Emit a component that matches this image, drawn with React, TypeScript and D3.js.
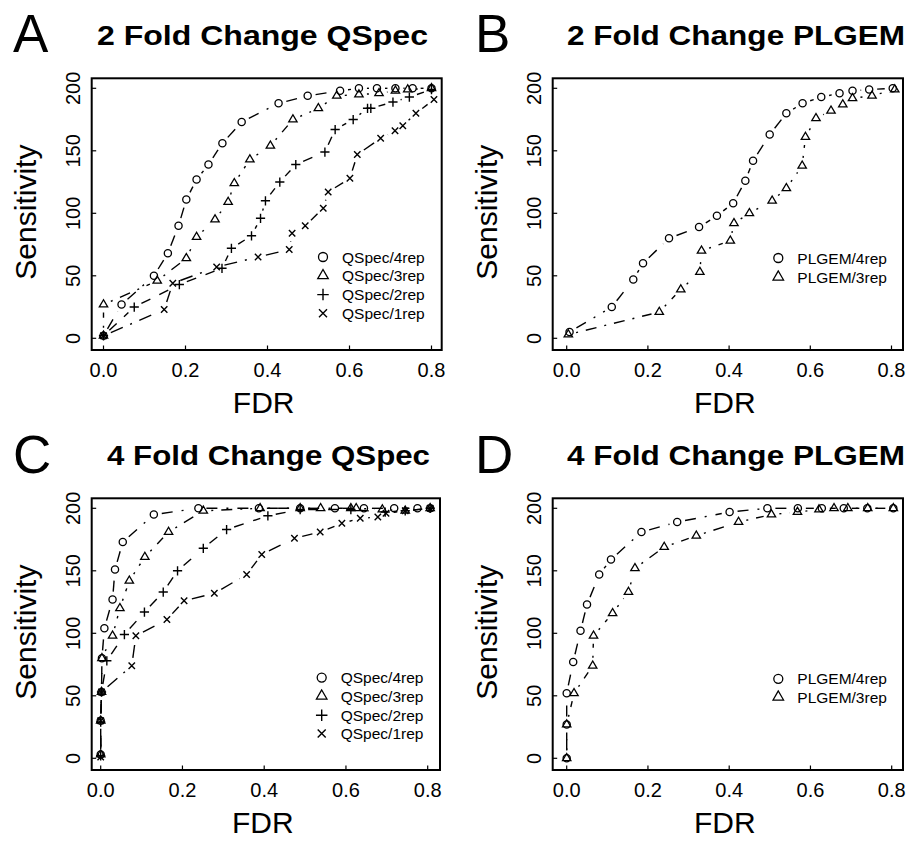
import React from "react";
import * as d3 from "d3";

type P = [number, number];

// ---------- Data (FDR, Sensitivity) ----------
const A_4rep: P[] = [[0,2],[0.044,27],[0.123,50],[0.157,68],[0.183,90],[0.202,111],[0.227,127],[0.256,139],[0.29,156],[0.337,173],[0.427,188],[0.498,194],[0.577,198],[0.623,200],[0.667,200],[0.712,200],[0.754,200],[0.8,200]];
const A_3rep: P[] = [[0,2],[0,27],[0.131,46],[0.202,64],[0.227,81],[0.272,95],[0.304,109],[0.319,124],[0.357,143],[0.407,154],[0.462,175],[0.524,184],[0.569,194],[0.623,195],[0.672,196],[0.712,198],[0.742,199],[0.8,200]];
const A_2rep: P[] = [[0,2],[0.075,25],[0.185,43],[0.289,56],[0.312,72],[0.361,82],[0.383,96],[0.395,110],[0.43,125],[0.469,139],[0.54,149],[0.565,167],[0.609,175],[0.644,184],[0.652,184],[0.706,189],[0.746,193],[0.8,199]];
const A_1rep: P[] = [[0,2],[0.148,23],[0.169,44],[0.276,57],[0.377,65],[0.453,71],[0.46,84],[0.492,90],[0.536,104],[0.548,117],[0.601,128],[0.619,147],[0.676,160],[0.711,166],[0.73,170],[0.762,180],[0.806,191]];

const B_4rep: P[] = [[0.007,5],[0.111,25],[0.164,47],[0.188,60],[0.252,80],[0.326,89],[0.37,98],[0.41,108],[0.44,126],[0.459,142],[0.5,163],[0.541,180],[0.581,188],[0.627,193],[0.672,196],[0.704,198],[0.745,199],[0.803,200]];
const B_3rep: P[] = [[0.004,3],[0.228,21],[0.281,39],[0.328,53],[0.332,70],[0.403,78],[0.412,92],[0.45,100],[0.506,110],[0.541,120],[0.58,138],[0.588,161],[0.614,176],[0.651,182],[0.68,187],[0.704,192],[0.752,194],[0.808,199]];

const C_4rep: P[] = [[0,3],[0,30],[0.002,53],[0.003,80],[0.009,104],[0.029,127],[0.035,151],[0.054,173],[0.13,195],[0.239,200],[0.387,200],[0.488,200],[0.573,200],[0.644,200],[0.718,200],[0.775,200],[0.806,200]];
const C_3rep: P[] = [[0,3],[0,30],[0.002,53],[0.003,80],[0.029,98],[0.047,120],[0.07,142],[0.108,161],[0.166,181],[0.251,198],[0.39,200],[0.488,200],[0.538,200],[0.612,200],[0.625,200],[0.689,199],[0.745,198],[0.806,200]];
const C_2rep: P[] = [[0,2],[0,29],[0.002,53],[0.015,78],[0.058,99],[0.107,117],[0.153,133],[0.188,150],[0.251,168],[0.308,183],[0.409,194],[0.488,199],[0.612,199],[0.696,197],[0.745,198],[0.806,200]];
const C_1rep: P[] = [[0,1],[0,30],[0.002,53],[0.076,74],[0.086,98],[0.162,111],[0.204,126],[0.278,132],[0.357,147],[0.394,163],[0.474,176],[0.537,181],[0.59,188],[0.635,192],[0.678,193],[0.698,196],[0.745,198],[0.806,200]];

const D_4rep: P[] = [[0,0],[0,27],[0,52],[0.016,77],[0.034,102],[0.05,123],[0.08,147],[0.109,159],[0.184,181],[0.272,189],[0.401,197],[0.494,200],[0.569,200],[0.628,200],[0.682,200],[0.74,200],[0.804,200]];
const D_3rep: P[] = [[0,0],[0,27],[0.018,52],[0.064,74],[0.066,98],[0.113,116],[0.152,133],[0.168,152],[0.24,169],[0.319,178],[0.423,189],[0.504,195],[0.568,197],[0.621,199],[0.658,200],[0.692,200],[0.741,200],[0.804,200]];

const xTicks = [0, 0.2, 0.4, 0.6, 0.8];
const yTicks = [0, 50, 100, 150, 200];
const qspecNames = ["QSpec/4rep", "QSpec/3rep", "QSpec/2rep", "QSpec/1rep"];
const plgemNames = ["PLGEM/4rep", "PLGEM/3rep"];
const titles = ["2 Fold Change QSpec", "2 Fold Change PLGEM", "4 Fold Change QSpec", "4 Fold Change PLGEM"];
const letters = ["A", "B", "C", "D"];

type Shape = "circle" | "triangle" | "plus" | "cross";
const shapes: Shape[] = ["circle", "triangle", "plus", "cross"];
const dashes = ["11,9,2,9", "2,8,11,8", "10,10", "13,8,2,8"];

interface Panel {
  box: [number, number, number, number];
  x0: number; x8: number; y0: number; y200: number;
  series: P[][]; names: string[];
  legendX: number; legendY: number[];
  letterX: number; letterY: number;
  titleCx: number; titleY: number; titleLen: number;
}

const panels: Panel[] = [
  { box: [91.7, 78.3, 441.7, 350], x0: 103.5, x8: 431.5, y0: 338.3, y200: 88.3,
    series: [A_4rep, A_3rep, A_2rep, A_1rep], names: qspecNames,
    legendX: 323, legendY: [257, 275.6, 294.6, 313.3],
    letterX: 13, letterY: 52, titleCx: 262.5, titleY: 45, titleLen: 331 },
  { box: [552.7, 78.3, 903, 350], x0: 566.7, x8: 891.5, y0: 338.3, y200: 88.3,
    series: [B_4rep, B_3rep], names: plgemNames,
    legendX: 778.3, legendY: [258, 277],
    letterX: 475, letterY: 52, titleCx: 736, titleY: 45, titleLen: 338 },
  { box: [91.7, 498.3, 440, 770], x0: 100.7, x8: 427.7, y0: 758.3, y200: 508.3,
    series: [C_4rep, C_3rep, C_2rep, C_1rep], names: qspecNames,
    legendX: 321.7, legendY: [677.6, 696, 715.2, 733.4],
    letterX: 13, letterY: 473, titleCx: 268.5, titleY: 465, titleLen: 323 },
  { box: [552.7, 498.3, 903, 770], x0: 566.7, x8: 891.7, y0: 758.3, y200: 508.3,
    series: [D_4rep, D_3rep], names: plgemNames,
    legendX: 778.3, legendY: [678.8, 697],
    letterX: 475, letterY: 473, titleCx: 736, titleY: 465, titleLen: 338 },
];

const FONT = "'Liberation Sans', Arial, Helvetica, sans-serif";

function Marker({ shape, x, y, s = 1 }: { shape: Shape; x: number; y: number; s?: number }) {
  const sw = 1.3;
  if (shape === "circle") return <circle cx={x} cy={y} r={3.6 * s} fill="none" stroke="#000" strokeWidth={sw} />;
  if (shape === "triangle") {
    const side = 8.4 * s, h = side * 0.866;
    const pts = [[x, y - (h * 2) / 3], [x - side / 2, y + h / 3], [x + side / 2, y + h / 3]];
    return <polygon points={pts.map((p) => p.join(",")).join(" ")} fill="none" stroke="#000" strokeWidth={sw} />;
  }
  if (shape === "plus") {
    const a = 4.6 * s;
    return <path d={`M${x - a},${y}H${x + a}M${x},${y - a}V${y + a}`} stroke="#000" strokeWidth={1.4} fill="none" />;
  }
  const a = 3.2 * s;
  return <path d={`M${x - a},${y - a}L${x + a},${y + a}M${x - a},${y + a}L${x + a},${y - a}`} stroke="#000" strokeWidth={1.4} fill="none" />;
}

function PanelView({ p, i }: { p: Panel; i: number }) {
  const xs = d3.scaleLinear().domain([0, 0.8]).range([p.x0, p.x8]);
  const ys = d3.scaleLinear().domain([0, 200]).range([p.y0, p.y200]);
  const [bl, bt, br, bb] = p.box;
  const gap = 8;
  return (
    <g>
      <text x={p.letterX} y={p.letterY} fontFamily={FONT} fontSize={53}>{letters[i]}</text>
      <text x={p.titleCx} y={p.titleY} fontFamily={FONT} fontSize={27} fontWeight="bold" textAnchor="middle"
        textLength={p.titleLen} lengthAdjust="spacingAndGlyphs">{titles[i]}</text>
      <rect x={bl} y={bt} width={br - bl} height={bb - bt} fill="none" stroke="#000" strokeWidth={2} />
      {xTicks.map((t) => (
        <g key={"x" + t}>
          <line x1={xs(t)} x2={xs(t)} y1={bb} y2={bb - 4.5} stroke="#000" strokeWidth={1.2} />
          <text x={xs(t)} y={bb + 27} fontFamily={FONT} fontSize={20} textAnchor="middle">{t.toFixed(1)}</text>
        </g>
      ))}
      {yTicks.map((t) => (
        <g key={"y" + t}>
          <line x1={bl} x2={bl + 4.5} y1={ys(t)} y2={ys(t)} stroke="#000" strokeWidth={1.2} />
          <text x={bl - 12} y={ys(t)} fontFamily={FONT} fontSize={20} textAnchor="middle"
            transform={`rotate(-90 ${bl - 12} ${ys(t)})`}>{t}</text>
        </g>
      ))}
      <text x={(bl + br) / 2 - 3} y={bb + 63} fontFamily={FONT} fontSize={30} textAnchor="middle">FDR</text>
      <text x={bl - 56} y={(bt + bb) / 2 - 2} fontFamily={FONT} fontSize={30} textAnchor="middle"
        transform={`rotate(-90 ${bl - 56} ${(bt + bb) / 2 - 2})`}>Sensitivity</text>
      {p.series.map((ser, si) => {
        const px = ser.map(([a, b]) => [xs(a), ys(b)] as [number, number]);
        const segs: JSX.Element[] = [];
        for (let k = 0; k < px.length - 1; k++) {
          const [x1, y1] = px[k], [x2, y2] = px[k + 1];
          const dx = x2 - x1, dy = y2 - y1, d = Math.hypot(dx, dy);
          if (d <= 2 * gap) continue;
          const ux = dx / d, uy = dy / d;
          segs.push(<line key={k} x1={x1 + ux * gap} y1={y1 + uy * gap} x2={x2 - ux * gap} y2={y2 - uy * gap}
            stroke="#000" strokeWidth={1.4} strokeDasharray={dashes[si]} />);
        }
        return (
          <g key={si}>
            {segs}
            {px.map(([x, y], k) => <Marker key={k} shape={shapes[si]} x={x} y={y} />)}
          </g>
        );
      })}
      {p.names.map((n, li) => (
        <g key={n}>
          <Marker shape={shapes[li]} x={p.legendX} y={p.legendY[li]} s={1.25} />
          <text x={p.legendX + 19} y={p.legendY[li] + 5.5} fontFamily={FONT} fontSize={15.5}>{n}</text>
        </g>
      ))}
    </g>
  );
}

export default function App() {
  return (
    <svg width={910} height={842} viewBox="0 0 910 842" style={{ position: "absolute", left: 0, top: 0, background: "#fff" }}>
      <rect width={910} height={842} fill="#fff" />
      {panels.map((p, i) => <PanelView key={i} p={p} i={i} />)}
    </svg>
  );
}
